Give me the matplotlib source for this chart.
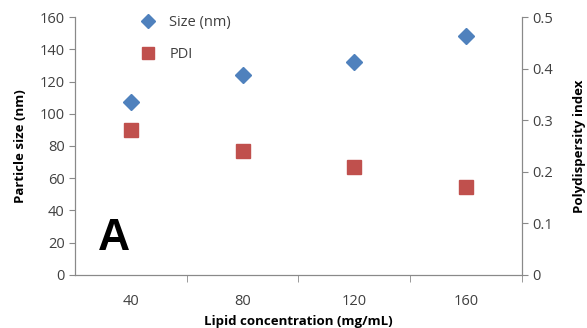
import matplotlib.pyplot as plt
from matplotlib.lines import Line2D

plt.rcParams['font.family'] = ['Open Sans', 'DejaVu Sans']

concentrations = ['40', '80', '120', '160']
size_nm = [107, 124, 132, 148]
pdi = [0.28, 0.24, 0.21, 0.17]

blue = '#4F81BD'
red = '#C0504D'
grey = '#898989'

fig = plt.figure(figsize=(5.87, 3.28), dpi=100)
ax = fig.add_axes([0.128, 0.162, 0.761, 0.786])
ax2 = ax.twinx()

x = list(range(len(concentrations)))
ax.plot(x, size_nm, 'D', color=blue, markersize=8, zorder=3)
ax2.plot(x, pdi, 's', color=red, markersize=9.5, zorder=3)

ax.set_xlim(-0.5, len(concentrations) - 0.5)
ax.set_ylim(0, 160)
ax.set_yticks(range(0, 161, 20))
ax2.set_ylim(0, 0.5)
ax2.set_yticks([0, 0.1, 0.2, 0.3, 0.4, 0.5])
ax2.set_yticklabels(['0', '0.1', '0.2', '0.3', '0.4', '0.5'])

ax.set_xticks(x)
ax.set_xticklabels(concentrations)
ax.set_xticks([i + 0.5 for i in x], minor=True)
ax.tick_params(axis='x', which='major', length=0, pad=14)
ax.tick_params(axis='x', which='minor', length=5, color=grey, direction='out')

for a in (ax, ax2):
    a.spines['top'].set_visible(False)
    for s in ('left', 'right', 'bottom'):
        a.spines[s].set_color(grey)
    a.tick_params(axis='y', length=4, color=grey, labelsize=10.5, labelcolor='#404040')
    a.tick_params(axis='x', labelsize=10.5, labelcolor='#404040')

ax.set_xlabel('Lipid concentration (mg/mL)', fontsize=9.5, fontweight='bold', labelpad=4)
ax.set_ylabel('Particle size (nm)', fontsize=9.5, fontweight='bold', labelpad=9)
ax2.set_ylabel('Polydispersity index', fontsize=9.5, fontweight='bold', labelpad=14)

ax.text(0.05, 0.095, 'A', transform=ax.transAxes, fontsize=32, fontweight='bold',
        family=['Liberation Sans', 'DejaVu Sans'])

handles = [Line2D([], [], marker='D', color=blue, linestyle='none', markersize=7),
           Line2D([], [], marker='s', color=red, linestyle='none', markersize=8)]
ax.legend(handles, ['Size (nm)', 'PDI'], frameon=False, loc='upper left',
          bbox_to_anchor=(0.1, 1.06), labelspacing=1.2, handletextpad=0.5,
          fontsize=10.5, labelcolor='#404040')

fig.savefig('out.png', dpi=100)
